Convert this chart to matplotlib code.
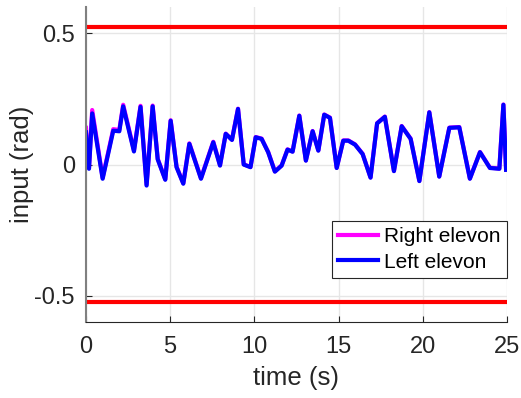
import numpy as np
import matplotlib.pyplot as plt

plt.rcParams['font.family'] = ['Liberation Sans', 'DejaVu Sans']

# время (с) и отклонения элевонов (рад)
t = [0.0, 0.18, 0.37, 0.99, 1.62, 1.98, 2.21, 2.85, 3.24, 3.6, 3.96, 4.26, 4.71,
     5.03, 5.38, 5.78, 6.14, 6.83, 7.56, 7.96, 8.3, 8.67, 9.03, 9.37, 9.77,
     10.08, 10.43, 10.82, 11.22, 11.62, 11.97, 12.27, 12.67, 13.06, 13.46, 13.8,
     14.15, 14.49, 14.89, 15.28, 15.58, 15.98, 16.43, 16.9, 17.29, 17.75, 18.29,
     18.75, 19.28, 19.8, 20.39, 20.98, 21.58, 22.17, 22.8, 23.4, 23.99, 24.55,
     24.79, 24.95]
left = [0.123, -0.016, 0.195, -0.054, 0.129, 0.127, 0.222, 0.05, 0.22, -0.08,
        0.222, 0.02, -0.058, 0.167, -0.01, -0.073, 0.079, -0.054, 0.085, -0.004,
        0.117, 0.094, 0.212, 0.0, -0.01, 0.104, 0.098, 0.047, -0.027, -0.004,
        0.057, 0.049, 0.186, 0.015, 0.127, 0.053, 0.19, 0.178, -0.013, 0.091,
        0.091, 0.076, 0.04, -0.05, 0.157, 0.182, -0.025, 0.146, 0.098, -0.063,
        0.199, -0.046, 0.14, 0.142, -0.054, 0.047, -0.013, -0.016, 0.228, -0.02]
# правый почти совпадает с левым, немного отличается в начале
right = [0.14, -0.012, 0.208, -0.05, 0.135, 0.132, 0.228, 0.054, 0.224, -0.076,
         0.225, 0.022, -0.056, 0.169, -0.008, -0.071, 0.081, -0.052, 0.087, -0.002,
         0.118, 0.095, 0.213, 0.001, -0.009, 0.105, 0.099, 0.048, -0.026, -0.003,
         0.058, 0.05, 0.187, 0.016, 0.128, 0.054, 0.191, 0.179, -0.012, 0.092,
         0.092, 0.077, 0.041, -0.049, 0.158, 0.183, -0.024, 0.147, 0.099, -0.062,
         0.2, -0.045, 0.141, 0.143, -0.053, 0.048, -0.012, -0.015, 0.229, -0.019]
limit = 0.5236  # ограничение 30 градусов

fig = plt.figure(figsize=(5.21, 3.98), dpi=100)
ax = fig.add_axes([0.165, 0.191, 0.808, 0.791])

ax.plot(t, right, color='#ff00ff', lw=3, label='Right elevon')
ax.plot(t, left, color='#0000ff', lw=3, label='Left elevon')
ax.axhline(limit, color='#ff0000', lw=3)
ax.axhline(-limit, color='#ff0000', lw=3)

ax.set_xlim(0, 25)
ax.set_ylim(-0.6, 0.6)
ax.set_xticks([0, 5, 10, 15, 20, 25])
ax.set_yticks([-0.5, 0, 0.5])
ax.set_yticklabels(['-0.5', '0', '0.5'])
ax.grid(True, color='#e6e6e6', lw=1)
ax.set_axisbelow(True)
for s in ['top', 'right']:
    ax.spines[s].set_visible(False)
for s in ['left', 'bottom']:
    ax.spines[s].set_color('#262626')
ax.spines['left'].set_color('#808080')
ax.spines['left'].set_linewidth(1.5)
ax.tick_params(direction='in', labelsize=17, colors='#262626', length=4)
ax.tick_params(axis='x', pad=10)
ax.tick_params(axis='y', pad=8)
ax.set_xlabel('time (s)', fontsize=18.5, color='#262626', labelpad=6)
ax.set_ylabel('input (rad)', fontsize=18.5, color='#262626', labelpad=0)

leg = ax.legend(loc='lower right', bbox_to_anchor=(0.999, 0.14), fontsize=15,
                fancybox=False, edgecolor='#262626', framealpha=1,
                handlelength=1.9, borderpad=0.3, labelspacing=0.3,
                handletextpad=0.3, borderaxespad=0)
leg.get_frame().set_linewidth(0.8)

plt.savefig('out.png', dpi=100)
